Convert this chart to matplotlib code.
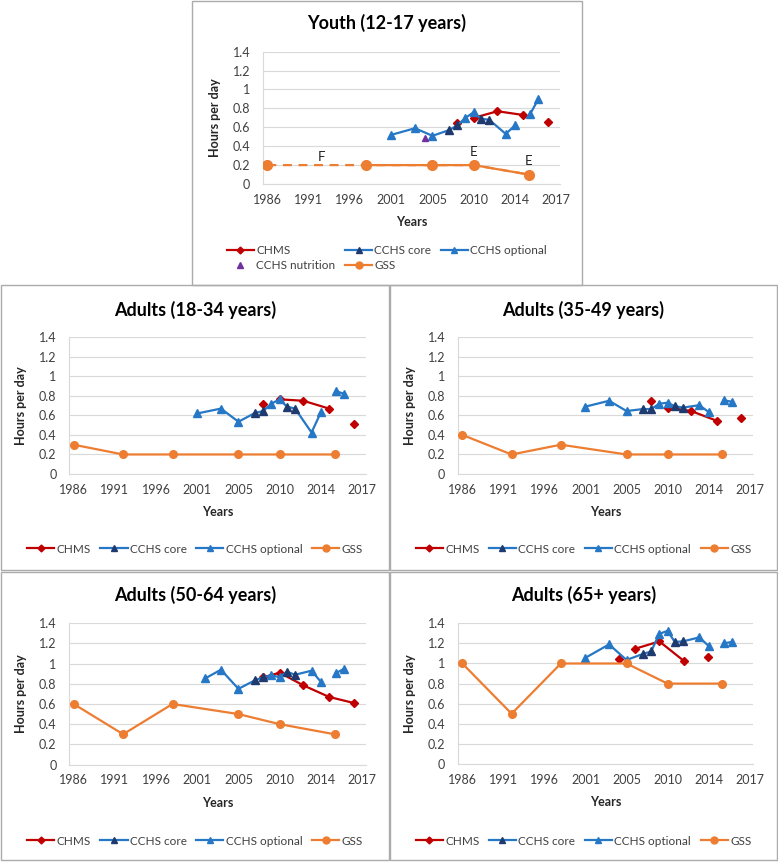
import numpy as np
import matplotlib
matplotlib.use("Agg")
import matplotlib.pyplot as plt
from matplotlib.lines import Line2D
from matplotlib.patches import Rectangle

plt.rcParams["font.family"] = ["Lato", "DejaVu Sans"]

# axis categories
tick_years = [1986, 1991, 1996, 2001, 2005, 2010, 2014, 2017]
y_ticks = [0, 0.2, 0.4, 0.6, 0.8, 1.0, 1.2, 1.4]

# survey years
gss_years = [1986, 1992, 1998, 2005, 2010, 2015]
opt_years = [2001, 2003.3, 2005, 2009, 2010, 2013.1, 2014, 2015.1, 2015.7]
opt_years_50 = [2001.8, 2003.3, 2005, 2009, 2010, 2013.1, 2014, 2015.1, 2015.7]
core_years = [2007, 2008, 2010.7, 2011.5]
chms_years = [2008, 2010, 2012.3, 2014.6, 2016.4]
chms_years_65 = [2004.3, 2006, 2009, 2011.6, 2013.9]
nutrition_years = [2004.3]

# Youth (12-17)
youth_gss = [0.2, np.nan, 0.2, 0.2, 0.2, 0.1]
youth_opt = [0.52, 0.59, 0.51, 0.70, 0.76, 0.53, 0.62, 0.74, 0.90]
youth_core = [0.57, 0.62, 0.69, 0.68]
youth_chms = [0.65, 0.70, 0.77, 0.73, 0.66]
youth_chms_joined = [False, True, True, False]
youth_nutrition = [0.49]
youth_flags = [("F", 1992.5, 0.29), ("E", 2010, 0.34), ("E", 2015, 0.24)]

# Adults (18-34)
a18_gss = [0.3, 0.2, 0.2, 0.2, 0.2, 0.2]
a18_opt = [0.62, 0.67, 0.535, 0.72, 0.765, 0.425, 0.63, 0.85, 0.82]
a18_core = [0.625, 0.645, 0.69, 0.67]
a18_chms = [0.715, 0.765, 0.75, 0.67, 0.51]
a18_chms_joined = [False, True, True, False]

# Adults (35-49)
a35_gss = [0.4, 0.2, 0.3, 0.2, 0.2, 0.2]
a35_opt = [0.69, 0.75, 0.645, 0.72, 0.73, 0.705, 0.635, 0.755, 0.74]
a35_core = [0.665, 0.665, 0.695, 0.68]
a35_chms = [0.745, 0.68, 0.645, 0.545, 0.575]
a35_chms_joined = [False, True, True, False]

# Adults (50-64)
a50_gss = [0.6, 0.3, 0.6, 0.5, 0.4, 0.3]
a50_opt = [0.855, 0.94, 0.75, 0.885, 0.865, 0.93, 0.82, 0.905, 0.95]
a50_core = [0.835, 0.865, 0.92, 0.89]
a50_chms = [0.865, 0.91, 0.785, 0.67, 0.61]
a50_chms_joined = [True, True, True, True]

# Adults (65+)
a65_gss = [1.0, 0.5, 1.0, 1.0, 0.8, 0.8]
a65_opt = [1.057, 1.19, 1.035, 1.295, 1.325, 1.26, 1.175, 1.2, 1.215]
a65_core = [1.095, 1.12, 1.215, 1.22]
a65_chms = [1.045, 1.145, 1.22, 1.025, 1.06]
a65_chms_joined = [False, True, True, False]

RED = "#C00000"
BLUE = "#2678C6"
NAVY = "#1F3A6E"
ORANGE = "#ED7D31"
PURPLE = "#7030A0"
GRID = "#D9D9D9"
TXT = "#404040"

W, H = 778, 863

# evenly spaced category ticks -> piecewise linear year scale
ext_years = [1981] + tick_years + [2020]
ext_pos = list(range(-1, len(tick_years) + 1))


def to_pos(x):
    return np.interp(x, ext_years, ext_pos)


def to_year(p):
    return np.interp(p, ext_pos, ext_years)


def broken(xs, ys, joined):
    # put a gap between points that are not joined in the source
    bx, by = [xs[0]], [ys[0]]
    for i in range(1, len(xs)):
        if not joined[i - 1]:
            bx.append((xs[i - 1] + xs[i]) / 2)
            by.append(np.nan)
        bx.append(xs[i])
        by.append(ys[i])
    return bx, by


def draw_panel(ax, gss, opt, core, chms, chms_joined, chms_x=chms_years,
               opt_x=opt_years, nutrition=None, flags=(), gss_ms=5.5):
    ax.set_xscale("function", functions=(to_pos, to_year))

    # CHMS
    bx, by = broken(chms_x, chms, chms_joined)
    ax.plot(bx, by, color=RED, lw=1.6, zorder=2)
    ax.plot(chms_x, chms, ls="none", marker="D", ms=4, color=RED, zorder=2)

    # CCHS: one line through optional and core cycles, gap before 2015
    cx = np.array(list(opt_x) + core_years)
    cy = np.array(list(opt) + list(core))
    order = np.argsort(cx)
    cx, cy = list(cx[order]), list(cy[order])
    k = int(np.searchsorted(cx, 2014.5))
    cx.insert(k, 2014.5)
    cy.insert(k, np.nan)
    ax.plot(cx, cy, color=BLUE, lw=1.6, zorder=3)
    ax.plot(opt_x, opt, ls="none", marker="^", ms=5.5, color=BLUE, zorder=3)
    ax.plot(core_years, core, ls="none", marker="^", ms=5.5, color=NAVY, zorder=3)

    if nutrition is not None:
        ax.plot(nutrition_years, nutrition, ls="none", marker="^", ms=5,
                color=PURPLE, zorder=3)

    # GSS (dashed across unreliable estimate)
    gy = np.array(gss, dtype=float)
    ok = ~np.isnan(gy)
    if not ok.all():
        ax.plot(np.array(gss_years)[ok], gy[ok], color=ORANGE, lw=1.6,
                ls=(0, (4, 3)), zorder=4)
    ax.plot(gss_years, gy, color=ORANGE, lw=1.6, marker="o", ms=gss_ms, zorder=4)

    for lab, fx, fy in flags:
        ax.text(fx, fy, lab, ha="center", va="center", fontsize=9.5, color="#222222")

    ax.set_xlim(1985.43, 2017.27)
    ax.set_ylim(0, 1.4)
    ax.set_xticks(tick_years)
    ax.set_xticklabels([str(t) for t in tick_years])
    ax.set_yticks(y_ticks)
    ax.set_yticklabels([f"{v:g}" for v in y_ticks])
    ax.tick_params(length=0, labelsize=9, labelcolor=TXT)
    ax.tick_params(axis="y", pad=9)
    ax.tick_params(axis="x", pad=7)
    ax.grid(axis="y", color=GRID, lw=0.8)
    ax.set_axisbelow(True)
    for s in ["top", "right"]:
        ax.spines[s].set_visible(False)
    for s in ["left", "bottom"]:
        ax.spines[s].set_color(GRID)
        ax.spines[s].set_linewidth(0.8)
    ax.set_xlabel("Years", fontsize=9, fontweight="bold", color="#262626")
    ax.set_ylabel("Hours per day", fontsize=9, fontweight="bold", color="#262626")
    ax.yaxis.set_label_coords(-0.14, 0.5)


def px_rect(x0, y0, x1, y1):
    return [x0 / W, 1 - y1 / H, (x1 - x0) / W, (y1 - y0) / H]


fig = plt.figure(figsize=(W / 100, H / 100), dpi=100)

handles = {
    "CHMS": Line2D([], [], color=RED, marker="D", ms=3.5, lw=1.6),
    "CCHS core": Line2D([], [], color=BLUE, marker="^", ms=5, mfc=NAVY, mec=NAVY, lw=1.6),
    "CCHS optional": Line2D([], [], color=BLUE, marker="^", ms=5, lw=1.6),
    "CCHS nutrition": Line2D([], [], color=PURPLE, marker="^", ms=5, ls="none"),
    "GSS": Line2D([], [], color=ORANGE, marker="o", ms=5, lw=1.6),
}

boxes = [(192, 1, 582, 285), (1, 285, 389, 570), (390, 285, 777, 570),
         (1, 572, 389, 860), (390, 572, 777, 860)]
for x0, y0, x1, y1 in boxes:
    fig.add_artist(Rectangle((x0 / W, 1 - y1 / H), (x1 - x0) / W, (y1 - y0) / H,
                             transform=fig.transFigure, fill=False,
                             ec="#ABABAB", lw=1))

panels = [
    ("Youth (12-17 years)", (262.7, 51.7, 560, 184), boxes[0], 23, 258,
     dict(gss=youth_gss, opt=youth_opt, core=youth_core, chms=youth_chms,
          chms_joined=youth_chms_joined, nutrition=youth_nutrition,
          flags=youth_flags, gss_ms=7)),
    ("Adults (18-34 years)", (69, 337.3, 365.7, 474), boxes[1], 310, 549,
     dict(gss=a18_gss, opt=a18_opt, core=a18_core, chms=a18_chms,
          chms_joined=a18_chms_joined)),
    ("Adults (35-49 years)", (457.7, 337.3, 753.3, 474), boxes[2], 310, 549,
     dict(gss=a35_gss, opt=a35_opt, core=a35_core, chms=a35_chms,
          chms_joined=a35_chms_joined)),
    ("Adults (50-64 years)", (69, 623.3, 365.7, 764.5), boxes[3], 595, 841,
     dict(gss=a50_gss, opt=a50_opt, core=a50_core, chms=a50_chms,
          chms_joined=a50_chms_joined, opt_x=opt_years_50)),
    ("Adults (65+ years)", (457.7, 623.3, 753.3, 764), boxes[4], 595, 841,
     dict(gss=a65_gss, opt=a65_opt, core=a65_core, chms=a65_chms,
          chms_joined=a65_chms_joined, chms_x=chms_years_65)),
]

for title, arect, box, ty, ly, kw in panels:
    ax = fig.add_axes(px_rect(*arect))
    draw_panel(ax, **kw)
    ax.xaxis.set_label_coords(0.5, -(arect[3] - arect[1] + 38) / (arect[3] - arect[1]) + 1)
    ax.xaxis.label.set_va("center")
    cx = (box[0] + box[2]) / 2 / W
    fig.text(cx, 1 - ty / H, title, ha="center", va="center",
             fontsize=13, fontweight="bold", color="black")
    if "nutrition" in kw:
        names = ["CHMS", "CCHS nutrition", "CCHS core", "GSS", "CCHS optional"]
        ncol = 3
    else:
        names = ["CHMS", "CCHS core", "CCHS optional", "GSS"]
        ncol = 4
    fig.legend([handles[n] for n in names], names, loc="center",
               bbox_to_anchor=(cx, 1 - ly / H), ncol=ncol, frameon=False,
               fontsize=8.5, handlelength=2.3, handletextpad=0.2,
               columnspacing=0.8, labelspacing=0.3, labelcolor=TXT)

fig.savefig("out.png", dpi=100)
